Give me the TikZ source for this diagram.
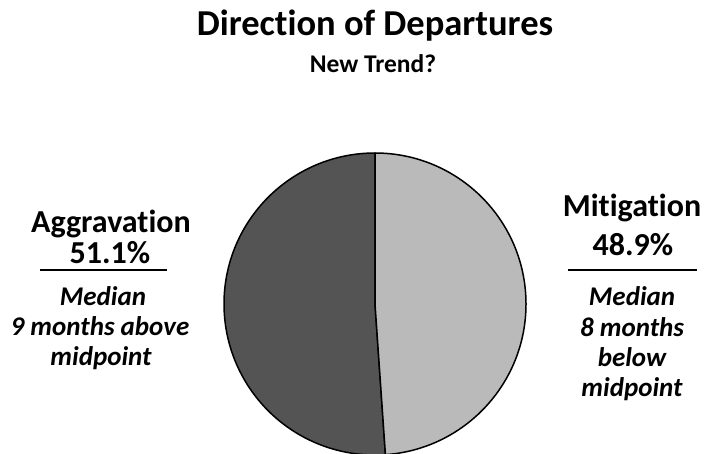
\documentclass[tikz,border=0pt]{standalone}
\usepackage{fontspec}
\setmainfont{Carlito}[Ligatures={NoCommon}]
\begin{document}
\begin{tikzpicture}[x=1pt,y=-1pt,
  title/.style={anchor=base,inner sep=0pt,font=\fontsize{36.5}{36.5}\selectfont\bfseries},
  subtitle/.style={anchor=base,inner sep=0pt,font=\fontsize{25.5}{25.5}\selectfont\bfseries},
  head/.style={anchor=base,inner sep=0pt,font=\fontsize{32}{32}\selectfont\bfseries},
  note/.style={anchor=base,inner sep=0pt,font=\fontsize{27}{27}\selectfont\bfseries\itshape},
  rule/.style={line width=2pt},
  wedge/.style={draw=black,line width=1.5pt,line join=round}]
\useasboundingbox (0,0) rectangle (708,453);
\fill[white] (0,0) rectangle (708,453);
% pie
\coordinate (c) at (375,304);
\filldraw[wedge,fill=black!67] (c) -- ++(-90:151) arc[start angle=-90,end angle=-273.96,radius=151] -- cycle;
\filldraw[wedge,fill=black!27] (c) -- ++(-90:151) arc[start angle=-90,end angle=86.04,radius=151] -- cycle;
% titles
\node[title] (t) at (375,35) {Direction of Departures};
\node[subtitle] (st) at (373,72) {New Trend?};
% left
\node[head] (ag) at (111,232) {Aggravation};
\node[head] (agp) at (110,263) {51.1\%};
\coordinate (la) at (40,270);
\coordinate (lb) at (167,270);
\draw[rule] (la) -- (lb);
\node[note] (l1) at (103,305) {Median};
\node[note] (l2) at (100,335) {9 months above};
\node[note] (l3) at (101,365) {midpoint};
% right
\node[head] (mi) at (632,216) {Mitigation};
\node[head] (mip) at (633,255) {48.9\%};
\coordinate (ra) at (568,270);
\coordinate (rb) at (697,270);
\draw[rule] (ra) -- (rb);
\node[note] (r1) at (632,305) {Median};
\node[note] (r2) at (632,336) {8 months};
\node[note] (r3) at (632,366) {below};
\node[note] (r4) at (632,396) {midpoint};
\end{tikzpicture}
\end{document}
